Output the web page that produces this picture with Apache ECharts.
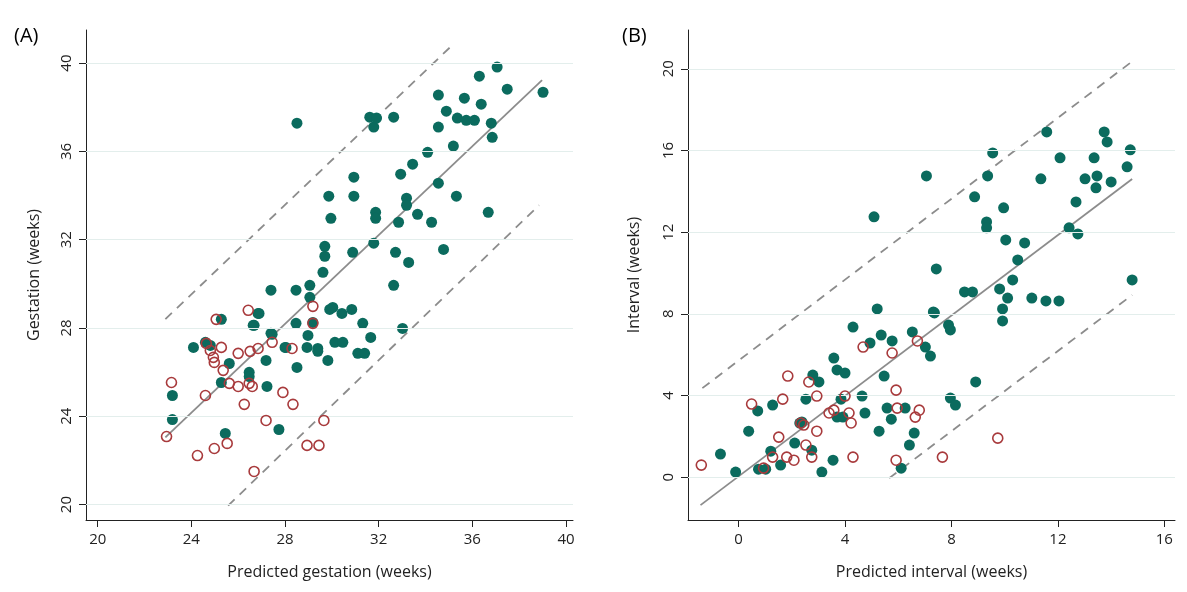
<!DOCTYPE html>
<html>
<head>
<meta charset="utf-8">
<script src="https://cdn.jsdelivr.net/npm/echarts@6/dist/echarts.min.js"></script>
<style>
  html, body { margin: 0; padding: 0; background: #fff; }
  #echarts { width: 1187px; height: 592px; }
</style>
</head>
<body>
<div id="echarts"></div>
<script>
// (A) gestation: [predicted, observed]
var gestFilled = [
  [28.51,37.28],[31.79,37.10],[31.62,37.55],[31.91,37.51],[32.64,37.55],[34.55,38.55],[34.89,37.82],
  [34.55,37.10],[35.66,38.41],[36.30,39.41],[37.06,39.82],[37.49,38.82],[36.38,38.14],[35.36,37.51],
  [35.74,37.41],[36.09,37.41],[36.81,37.28],[36.85,36.64],[39.02,38.68],[35.19,36.24],[34.09,35.96],
  [33.45,35.42],[32.94,34.97],[34.55,34.56],[35.32,33.97],[33.19,33.88],[33.19,33.56],[33.66,33.15],
  [34.26,32.79],[32.85,32.79],[36.68,33.24],[30.94,34.83],[29.87,33.97],[30.94,33.97],[29.96,32.97],
  [31.87,33.24],[31.87,32.97],[31.79,31.84],[30.89,31.43],[32.72,31.43],[34.77,31.56],[33.28,30.97],
  [29.70,31.70],[29.70,31.25],[29.62,30.52],[32.64,29.93],[29.06,29.93],[28.47,29.71],[27.40,29.71],
  [29.06,29.39],[26.89,28.66],[26.68,28.12],[28.47,28.21],[29.91,28.84],[30.04,28.93],[30.43,28.66],
  [30.85,28.84],[31.32,28.21],[28.98,27.66],[29.19,28.25],[31.66,27.57],[33.02,27.98],[30.13,27.35],
  [30.47,27.35],[27.40,27.76],[28.04,27.12],[28.94,27.12],[29.40,27.07],[25.28,28.39],[26.85,28.66],
  [26.64,28.12],[24.09,27.12],[24.60,27.35],[24.81,27.21],[25.62,26.39],[26.47,25.99],[26.47,25.80],
  [25.28,25.53],[27.19,26.53],[28.00,27.12],[28.51,26.21],[27.23,25.35],[23.19,24.94],[23.19,23.85],
  [25.45,23.22],[27.74,23.40],[27.45,27.71],[29.40,26.94],[29.83,26.53],[31.11,26.85],[31.40,26.85]
];
var gestOpen = [
  [26.43,28.80],[25.06,28.39],[29.19,28.98],[29.19,28.21],[25.28,27.12],[26.00,26.85],[26.51,26.94],
  [26.85,27.07],[27.45,27.35],[28.30,27.07],[24.94,26.67],[24.98,26.44],[25.36,26.08],[25.62,25.49],
  [26.00,25.35],[26.47,25.49],[26.60,25.35],[23.15,25.53],[24.60,24.94],[26.26,24.54],[27.91,25.08],
  [28.34,24.54],[27.19,23.81],[29.66,23.81],[22.94,23.08],[24.26,22.22],[24.98,22.54],[25.53,22.77],
  [28.94,22.68],[29.45,22.68],[26.68,21.50],[24.64,27.30],[24.81,26.98]
];
var gestFit = [[22.89,23.04],[38.98,39.23]];
var gestUpper = [[22.89,28.40],[35.23,40.90]];
var gestLower = [[25.57,19.95],[38.85,33.56]];

// (B) interval: [predicted, observed]
var intFilled = [
  [5.21,8.24],[7.36,8.04],[7.89,7.45],[7.96,7.21],[4.30,7.35],[4.94,6.57],[5.36,6.96],[5.77,6.67],
  [6.53,7.11],[7.02,6.37],[7.21,5.93],[3.58,5.83],[3.70,5.25],[4.00,5.10],[2.79,5.00],[3.02,4.66],
  [5.47,4.95],[8.91,4.66],[2.53,3.82],[4.64,3.97],[3.85,3.82],[4.75,3.14],[5.58,3.38],[6.26,3.38],
  [5.74,2.84],[7.96,3.87],[8.15,3.53],[1.28,3.53],[0.72,3.24],[0.38,2.25],[2.38,2.70],[2.11,1.67],
  [3.70,2.94],[3.92,2.94],[5.28,2.25],[6.60,2.16],[6.42,1.57],[2.75,1.32],[1.21,1.27],[-0.68,1.13],
  [1.58,0.59],[3.55,0.83],[3.13,0.25],[-0.11,0.25],[0.75,0.39],[1.02,0.39],[6.11,0.44],[2.30,2.65],
  [11.58,16.91],[13.74,16.91],[13.85,16.42],[14.72,16.03],[9.55,15.88],[12.08,15.64],[13.36,15.64],
  [7.06,14.75],[9.36,14.75],[11.36,14.61],[13.02,14.61],[13.47,14.75],[13.43,14.17],[14.00,14.46],
  [14.60,15.20],[8.87,13.73],[9.96,13.19],[12.68,13.48],[5.09,12.75],[9.32,12.50],[9.32,12.21],
  [12.42,12.21],[12.75,11.91],[10.04,11.62],[10.75,11.47],[10.49,10.64],[7.43,10.20],[10.30,9.66],
  [9.81,9.22],[10.11,8.77],[14.79,9.66],[8.49,9.07],[8.79,9.07],[11.02,8.77],[11.55,8.63],[12.04,8.63],
  [7.32,8.09],[9.92,8.24],[9.92,7.65]
];
var intOpen = [
  [-1.40,0.59],[0.49,3.58],[1.66,3.82],[1.85,4.95],[2.64,4.66],[2.94,3.97],[4.68,6.37],[5.77,6.08],
  [6.72,6.67],[5.92,4.26],[5.96,3.38],[6.79,3.28],[6.64,2.94],[3.40,3.14],[3.58,3.28],[4.00,3.97],
  [4.15,3.14],[4.23,2.65],[2.34,2.65],[2.94,2.25],[1.51,1.96],[2.53,1.57],[1.28,0.98],[1.81,0.98],
  [2.08,0.83],[2.75,0.98],[0.94,0.44],[4.30,0.98],[5.92,0.83],[7.66,0.98],[2.45,2.55],[9.74,1.91]
];
var intFit = [[-1.43,-1.37],[14.79,14.60]];
var intUpper = [[-1.36,4.36],[14.87,20.44]];
var intLower = [[5.66,-0.05],[14.79,8.92]];

var gestTicks = [20, 24, 28, 32, 36, 40];
var intTicks = [0, 4, 8, 12, 16, 20];
var intXTicks = [0, 4, 8, 12, 16];

var GREEN = '#0b6b5e', RED = '#a83a3c', FONT = 'Open Sans';

function xAx(idx, min, max, ticks, name) {
    return {
        type: 'value', gridIndex: idx, min: min, max: max,
        name: name, nameLocation: 'middle', nameGap: 44,
        nameTextStyle: { fontSize: 16, color: '#222', fontFamily: FONT },
        axisLine: { show: true, onZero: false, lineStyle: { color: '#222' } },
        axisTick: { show: true, length: 7, customValues: ticks, lineStyle: { color: '#222' } },
        axisLabel: { customValues: ticks, margin: 12, fontSize: 15, color: '#222', fontFamily: FONT },
        splitLine: { show: false }
    };
}
function yAx(idx, min, max, ticks, name, gap) {
    return {
        type: 'value', gridIndex: idx, min: min, max: max,
        name: name, nameLocation: 'middle', nameGap: gap,
        nameTextStyle: { fontSize: 16, color: '#222', fontFamily: FONT },
        axisLine: { show: true, onZero: false, lineStyle: { color: '#222' } },
        axisTick: { show: true, length: 7, customValues: ticks, lineStyle: { color: '#222' } },
        axisLabel: { customValues: ticks, rotate: 90, margin: 12, fontSize: 15, color: '#222', fontFamily: FONT },
        splitLine: { show: false }
    };
}
// 网格线
function gridLines(yi, vals) {
    return {
        type: 'line', xAxisIndex: yi, yAxisIndex: yi, data: [], silent: true,
        markLine: {
            symbol: 'none', silent: true, label: { show: false },
            lineStyle: { color: '#e3eeec', type: 'solid', width: 1 },
            data: vals.map(function(v) { return { yAxis: v }; })
        }
    };
}
function lineS(i, d, dashed, w) {
    return {
        type: 'line', xAxisIndex: i, yAxisIndex: i, data: d, symbol: 'none', z: 3,
        lineStyle: { color: '#8c8c8c', width: w, type: dashed ? [9, 7] : 'solid' }
    };
}
function filled(i, d) {
    return { type: 'scatter', xAxisIndex: i, yAxisIndex: i, data: d, symbolSize: 11, z: 4,
        itemStyle: { color: GREEN, opacity: 1 } };
}
function hollow(i, d) {
    return { type: 'scatter', xAxisIndex: i, yAxisIndex: i, data: d, symbolSize: 10, z: 5,
        itemStyle: { color: 'rgba(255,255,255,0)', borderColor: RED, borderWidth: 1.6, opacity: 1 } };
}

var myChart = echarts.init(document.getElementById('echarts'));
myChart.setOption({
    backgroundColor: '#fff',
    animation: false,
    graphic: [
        { type: 'text', left: 14, top: 26, style: { text: '(A)', fontSize: 20, fill: '#000', fontFamily: FONT } },
        { type: 'text', left: 622, top: 26, style: { text: '(B)', fontSize: 20, fill: '#000', fontFamily: FONT } }
    ],
    grid: [
        { left: 86, right: 614, top: 30, bottom: 72 },
        { left: 688, right: 12, top: 30, bottom: 72 }
    ],
    xAxis: [
        xAx(0, 19.5, 40.3, gestTicks, 'Predicted gestation (weeks)'),
        xAx(1, -1.9, 16.4, intXTicks, 'Predicted interval (weeks)')
    ],
    yAxis: [
        yAx(0, 19.3, 41.5, gestTicks, 'Gestation (weeks)', 44),
        yAx(1, -2.1, 21.9, intTicks, 'Interval (weeks)', 46)
    ],
    series: [
        gridLines(0, gestTicks), gridLines(1, intTicks),
        lineS(0, gestUpper, true, 1.8), lineS(0, gestLower, true, 1.8), lineS(0, gestFit, false, 1.8),
        lineS(1, intUpper, true, 1.8), lineS(1, intLower, true, 1.8), lineS(1, intFit, false, 1.8),
        filled(0, gestFilled), hollow(0, gestOpen),
        filled(1, intFilled), hollow(1, intOpen)
    ]
});
</script>
</body>
</html>
